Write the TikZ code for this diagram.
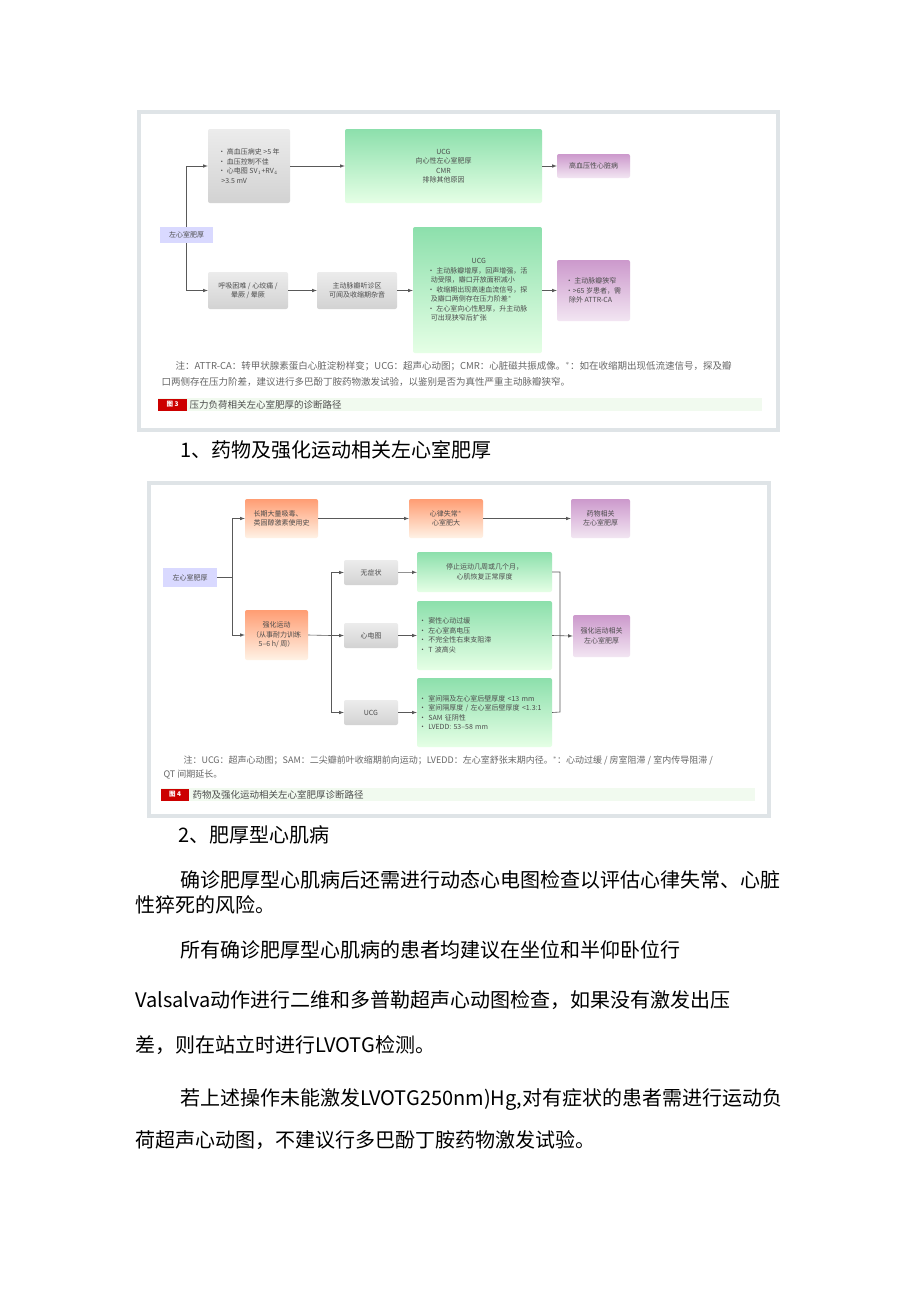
\documentclass[tikz,border=0pt]{standalone}
\usepackage{fontspec}
\setmainfont{Noto Sans CJK SC}
\newfontfamily\cjk{Noto Sans CJK SC}
\begin{document}
\begin{tikzpicture}[x=1pt,y=-1pt,
  bx/.style={rounded corners=2pt,inner sep=1pt,align=center,font=\fontsize{7}{9.5}\selectfont,text=black!70},
  gry/.style={bx,top color=gray!15,bottom color=gray!35},
  grn/.style={bx,top color=green!45!teal!45,bottom color=green!10},
  pur/.style={bx,top color=violet!40,bottom color=violet!10},
  org/.style={bx,top color=orange!60!red!55,bottom color=orange!10},
  blu/.style={bx,fill=blue!15,rounded corners=0pt},
  ar/.style={-latex,gray!70!black,line width=0.6pt},
  ln/.style={gray!70!black,line width=0.6pt},
  note/.style={anchor=west,font=\fontsize{9.5}{10}\selectfont,text=black!60},
  body/.style={anchor=west,font=\fontsize{20}{24}\selectfont,inner sep=0pt}]
\useasboundingbox (0,0) rectangle (920,1301);
\fill[white] (0,0) rectangle (920,1301);
% ---------- Figure 1
\draw[line width=4pt,cyan!15!gray!25] (139,112) rectangle (778,430);
\node[blu,minimum width=53pt,minimum height=16pt] (a0) at (186.5,235) {左心室肥厚};
\node[gry,minimum width=82pt,minimum height=74pt,align=left] (a1) at (249,166) {• 高血压病史 >5 年\\• 血压控制不佳\\• 心电图 SV$_1$+RV$_4$\\\ \ >3.5 mV};
\node[grn,minimum width=197pt,minimum height=74pt] (a2) at (443.5,166) {UCG\\向心性左心室肥厚\\CMR\\排除其他原因};
\node[pur,minimum width=73pt,minimum height=24pt] (a3) at (593.5,166) {高血压性心脏病};
\node[gry,minimum width=80pt,minimum height=37pt] (b1) at (248,290.5) {呼吸困难 / 心绞痛 /\\晕厥 / 晕厥};
\node[gry,minimum width=80pt,minimum height=37pt] (b2) at (357,290.5) {主动脉瓣听诊区\\可闻及收缩期杂音};
\node[grn,minimum width=129pt,minimum height=126pt,align=left] (b3) at (477.5,290) {\hspace*{44pt}UCG\\• 主动脉瓣增厚，回声增强，活\\\ \ 动受限，瓣口开放面积减小\\• 收缩期出现高速血流信号，探\\\ \ 及瓣口两侧存在压力阶差$^*$\\• 左心室向心性肥厚，升主动脉\\\ \ 可出现狭窄后扩张};
\node[pur,minimum width=73pt,minimum height=61pt,align=left] (b4) at (593.5,290.5) {• 主动脉瓣狭窄\\•>65 岁患者，需\\\ \ 除外 ATTR-CA};
\draw[ar] (a0.south) |- (b1.west);
\draw[ar] (a0.north) |- (a1.west);
\draw[ar] (a1) -- (a2);
\draw[ar] (a2) -- (a3);
\draw[ar] (b1) -- (b2);
\draw[ar] (b2) -- (b2-|b3.west);
\draw[ar] (b3.east|-b4) -- (b4);
\node[note] (n1) at (172,366) {注：ATTR-CA：转甲状腺素蛋白心脏淀粉样变；UCG：超声心动图；CMR：心脏磁共振成像。$^*$：如在收缩期出现低流速信号，探及瓣};
\node[note] (n2) at (158,382) {口两侧存在压力阶差，建议进行多巴酚丁胺药物激发试验，以鉴别是否为真性严重主动脉瓣狭窄。};
\fill[yellow!6!green!6] (158,398) rectangle (762,411);
\node[fill=red!80!black,text=white,font=\fontsize{6.5}{7}\selectfont\bfseries,minimum width=29pt,minimum height=12pt,inner sep=0pt] (t1) at (172.5,404.5) {图 3};
\node[anchor=west,font=\fontsize{9.5}{10}\selectfont,text=black!70] (c1) at (186,404.5) {压力负荷相关左心室肥厚的诊断路径};
% ---------- heading
\node[body] (h1) at (180,450) {1、药物及强化运动相关左心室肥厚};
% ---------- Figure 2
\draw[line width=4pt,cyan!15!gray!25] (149,483) rectangle (769,816);
\node[blu,minimum width=54pt,minimum height=19pt] (p0) at (190,577.5) {左心室肥厚};
\node[org,minimum width=73pt,minimum height=39pt,align=left] (p1) at (281.5,518.5) {长期大量吸毒、\\类固醇激素使用史};
\node[org,minimum width=74pt,minimum height=39pt] (p2) at (446,518.5) {心律失常$^*$\\心室肥大};
\node[pur,minimum width=59pt,minimum height=39pt] (p3) at (600.5,518.5) {药物相关\\左心室肥厚};
\node[org,minimum width=63pt,minimum height=50pt] (q1) at (276.5,635) {强化运动\\（从事耐力训练\\5–6 h/ 周）};
\node[gry,minimum width=54pt,minimum height=25pt] (s1) at (371,572.5) {无症状};
\node[gry,minimum width=54pt,minimum height=25pt] (s2) at (371,635.5) {心电图};
\node[gry,minimum width=54pt,minimum height=25pt] (s3) at (371,712.5) {UCG};
\node[grn,minimum width=135pt,minimum height=40pt] (g1) at (484.5,572) {停止运动几周或几个月，\\心肌恢复正常厚度};
\node[grn,minimum width=135pt,minimum height=69pt,align=left,text width=131pt] (g2) at (484.5,635.5) {• 窦性心动过缓\\• 左心室高电压\\• 不完全性右束支阻滞\\• T 波高尖};
\node[grn,minimum width=135pt,minimum height=69pt,align=left,text width=131pt] (g3) at (484.5,712.5) {• 室间隔及左心室后壁厚度 <13 mm\\• 室间隔厚度 / 左心室后壁厚度 <1.3:1\\• SAM 征阴性\\• LVEDD: 53–58 mm};
\node[pur,minimum width=57pt,minimum height=42pt] (p4) at (601.5,636) {强化运动相关\\左心室肥厚};
\draw[ln] (p0.east) -- (232,577.5);
\draw[ar] (232,577.5) |- (p1.west);
\draw[ar] (232,577.5) |- (q1.west);
\draw[ar] (p1) -- (p2);
\draw[ar] (p2) -- (p3);
\draw[ln] (q1.east) -- (331,635.5);
\draw[ar] (331,635.5) |- (s1.west);
\draw[ar] (331,635.5) -- (s2.west);
\draw[ar] (331,635.5) |- (s3.west);
\draw[ar] (s1) -- (g1);
\draw[ar] (s2) -- (g2);
\draw[ar] (s3) -- (g3);
\draw[ln] (g1.east) -- (560,572) -- (560,712) -- (g3.east);
\draw[ar] (g2.east) -- (p4.west);
\node[note,font=\fontsize{9}{10}\selectfont] (m1) at (180,760) {注：UCG：超声心动图；SAM：二尖瓣前叶收缩期前向运动；LVEDD：左心室舒张末期内径。$^*$：心动过缓 / 房室阻滞 / 室内传导阻滞 /};
\node[note,font=\fontsize{9}{10}\selectfont] (m2) at (160,775) {QT 间期延长。};
\fill[yellow!6!green!6] (161,788) rectangle (755,801);
\node[fill=red!80!black,text=white,font=\fontsize{6.5}{7}\selectfont\bfseries,minimum width=28pt,minimum height=12pt,inner sep=0pt] (t2) at (175,794.5) {图 4};
\node[anchor=west,font=\fontsize{9.5}{10}\selectfont,text=black!70] (c2) at (189,794.5) {药物及强化运动相关左心室肥厚诊断路径};
% ---------- body text
\node[body] (h2) at (178,835) {2、肥厚型心肌病};
\node[body] (l1) at (180,880) {确诊肥厚型心肌病后还需进行动态心电图检查以评估心律失常、心脏};
\node[body] (l2) at (135,905) {性猝死的风险。};
\node[body] (l3) at (180,950) {所有确诊肥厚型心肌病的患者均建议在坐位和半仰卧位行};
\node[body] (l4) at (135,1000) {Valsalva动作进行二维和多普勒超声心动图检查，如果没有激发出压};
\node[body] (l5) at (135,1045) {差，则在站立时进行LVOTG检测。};
\node[body] (l6) at (180,1100) {若上述操作未能激发LVOTG250nm)Hg,对有症状的患者需进行运动负};
\node[body] (l7) at (135,1140) {荷超声心动图，不建议行多巴酚丁胺药物激发试验。};
\end{tikzpicture}
\end{document}
